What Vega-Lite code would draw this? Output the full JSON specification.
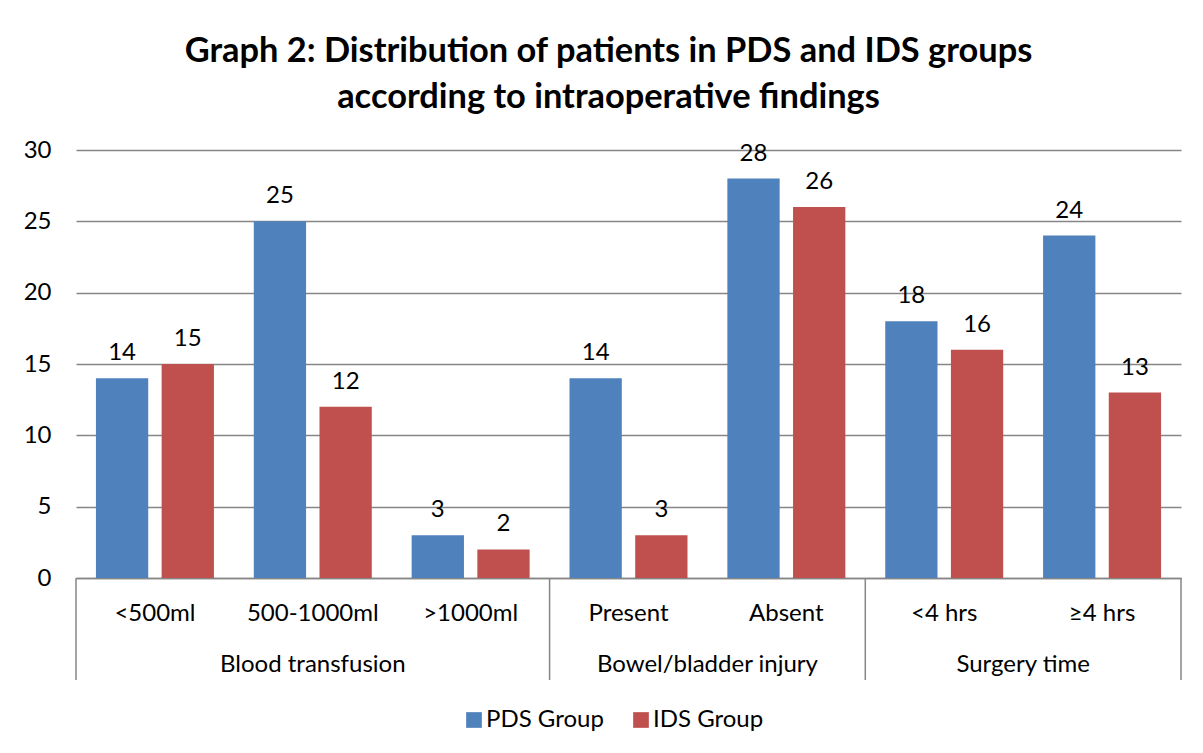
{
  "$schema": "https://vega.github.io/schema/vega-lite/v6.json",
  "width": 1105,
  "height": 428,
  "autosize": {"type": "none"},
  "padding": {"left": 76, "top": 150, "right": 22, "bottom": 175},
  "background": "white",
  "config": {
    "font": "Lato",
    "view": {"stroke": null},
    "axis": {"labelFont": "Lato", "labelColor": "black"}
  },
  "title": {
    "text": ["Graph 2: Distribution of patients in PDS and IDS groups", "according to intraoperative findings"],
    "font": "Lato",
    "fontSize": 34.4,
    "fontWeight": "bold",
    "color": "black",
    "lineHeight": 46,
    "anchor": "middle",
    "frame": "group",
    "dx": -20,
    "offset": 22.5
  },
  "datasets": {
    "bars": [
      {"cat": "<500ml", "series": "PDS Group", "value": 14},
      {"cat": "<500ml", "series": "IDS Group", "value": 15},
      {"cat": "500-1000ml", "series": "PDS Group", "value": 25},
      {"cat": "500-1000ml", "series": "IDS Group", "value": 12},
      {"cat": ">1000ml", "series": "PDS Group", "value": 3},
      {"cat": ">1000ml", "series": "IDS Group", "value": 2},
      {"cat": "Present", "series": "PDS Group", "value": 14},
      {"cat": "Present", "series": "IDS Group", "value": 3},
      {"cat": "Absent", "series": "PDS Group", "value": 28},
      {"cat": "Absent", "series": "IDS Group", "value": 26},
      {"cat": "<4 hrs", "series": "PDS Group", "value": 18},
      {"cat": "<4 hrs", "series": "IDS Group", "value": 16},
      {"cat": "≥4 hrs", "series": "PDS Group", "value": 24},
      {"cat": "≥4 hrs", "series": "IDS Group", "value": 13}
    ],
    "groupStarts": [
      {"cat": "<500ml"},
      {"cat": "Present"},
      {"cat": "<4 hrs"}
    ],
    "groupEnd": [
      {"cat": "≥4 hrs"}
    ],
    "groupCenter": [
      {"cat": "500-1000ml", "group": "Blood transfusion"}
    ],
    "groupEdgeCenter": [
      {"cat": "Present", "group": "Bowel/bladder injury"},
      {"cat": "<4 hrs", "group": "Surgery time"}
    ]
  },
  "layer": [
    {
      "data": {"name": "bars"},
      "mark": {"type": "bar"},
      "encoding": {
        "x": {
          "field": "cat", "type": "nominal",
          "scale": {"domain": ["<500ml", "500-1000ml", ">1000ml", "Present", "Absent", "<4 hrs", "≥4 hrs"], "paddingInner": 0, "paddingOuter": 0},
          "axis": {
            "title": null,
            "labelAngle": 0,
            "labelFontSize": 24,
            "labelBaseline": "alphabetic",
            "labelPadding": 42,
            "ticks": false,
            "domain": true,
            "domainColor": "#868686",
            "domainWidth": 1.5
          }
        },
        "xOffset": {
          "field": "series", "type": "nominal",
          "scale": {"domain": ["PDS Group", "IDS Group"], "paddingInner": 0.204, "paddingOuter": 0.3035}
        },
        "y": {
          "field": "value", "type": "quantitative",
          "scale": {"domain": [0, 30], "nice": false},
          "axis": {
            "title": null,
            "values": [0, 5, 10, 15, 20, 25, 30],
            "labelFontSize": 24,
            "labelPadding": 25,
            "ticks": false,
            "domain": false,
            "grid": true,
            "gridColor": "#868686",
            "gridWidth": 1.5
          }
        },
        "color": {
          "field": "series", "type": "nominal",
          "scale": {"domain": ["PDS Group", "IDS Group"], "range": ["#4F81BD", "#C0504D"]},
          "legend": {
            "title": null,
            "orient": "none",
            "legendX": 386,
            "legendY": 558,
            "direction": "horizontal",
            "symbolType": "square",
            "symbolSize": 246,
            "symbolStrokeWidth": 0,
            "labelFontSize": 24,
            "labelFont": "Lato",
            "labelColor": "black",
            "columnPadding": 25,
            "labelOffset": 0
          }
        }
      }
    },
    {
      "data": {"name": "bars"},
      "mark": {"type": "text", "baseline": "alphabetic", "dy": -18, "fontSize": 24, "color": "black"},
      "encoding": {
        "x": {"field": "cat", "type": "nominal", "scale": {"domain": ["<500ml", "500-1000ml", ">1000ml", "Present", "Absent", "<4 hrs", "≥4 hrs"]}},
        "xOffset": {"field": "series", "type": "nominal", "scale": {"domain": ["PDS Group", "IDS Group"]}},
        "y": {"field": "value", "type": "quantitative"},
        "text": {"field": "value", "type": "quantitative"}
      }
    },
    {
      "data": {"name": "groupStarts"},
      "mark": {"type": "rule", "color": "#868686", "strokeWidth": 1.5, "clip": false},
      "encoding": {
        "x": {"field": "cat", "type": "nominal", "bandPosition": 0, "scale": {"domain": ["<500ml", "500-1000ml", ">1000ml", "Present", "Absent", "<4 hrs", "≥4 hrs"]}},
        "y": {"datum": 0},
        "y2": {"datum": -7.15}
      }
    },
    {
      "data": {"name": "groupEnd"},
      "mark": {"type": "rule", "color": "#868686", "strokeWidth": 1.5, "clip": false},
      "encoding": {
        "x": {"field": "cat", "type": "nominal", "bandPosition": 1, "scale": {"domain": ["<500ml", "500-1000ml", ">1000ml", "Present", "Absent", "<4 hrs", "≥4 hrs"]}},
        "y": {"datum": 0},
        "y2": {"datum": -7.15}
      }
    },
    {
      "data": {"name": "groupCenter"},
      "mark": {"type": "text", "baseline": "alphabetic", "fontSize": 24, "color": "black", "clip": false},
      "encoding": {
        "x": {"field": "cat", "type": "nominal", "bandPosition": 0.5, "scale": {"domain": ["<500ml", "500-1000ml", ">1000ml", "Present", "Absent", "<4 hrs", "≥4 hrs"]}},
        "y": {"datum": -6.57},
        "text": {"field": "group"}
      }
    },
    {
      "data": {"name": "groupEdgeCenter"},
      "mark": {"type": "text", "baseline": "alphabetic", "fontSize": 24, "color": "black", "clip": false},
      "encoding": {
        "x": {"field": "cat", "type": "nominal", "bandPosition": 1, "scale": {"domain": ["<500ml", "500-1000ml", ">1000ml", "Present", "Absent", "<4 hrs", "≥4 hrs"]}},
        "y": {"datum": -6.57},
        "text": {"field": "group"}
      }
    }
  ]
}
